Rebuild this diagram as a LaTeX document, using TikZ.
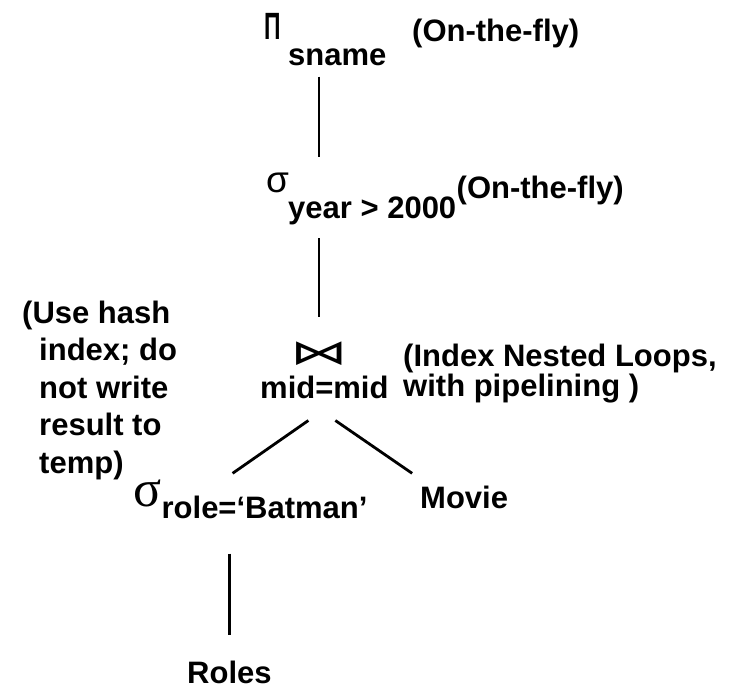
\documentclass[tikz,border=0pt]{standalone}
\usepackage{fontspec}
\setmainfont{Liberation Sans}
\newfontfamily\serifgreek{Liberation Serif}
\newfontfamily\symfont{DejaVu Sans}
\tikzset{
	lbl/.style ={inner sep=0pt, font=\fontsize{31}{37.5}\selectfont\bfseries},
	note/.style={lbl, align=left},
	edge/.style={line width=2.8pt},
}

\begin{document}
\begin{tikzpicture}[x=1pt, y=-1pt]
	\useasboundingbox (0,0) rectangle (742,686);
	% projection
	\node[lbl, anchor=base west] (pi) at (264,39) {\fontsize{38}{38}\selectfont\scalebox{0.6}[1]{Π}};
	\node[lbl, anchor=base west] (pisub) at (288,65) {sname};
	\node[lbl, anchor=base west] (otf1) at (412,41) {(On-the-fly)};
	% selection on year
	\node[lbl, anchor=base west] (sig1) at (266,192) {\mdseries\fontsize{37}{37}\selectfont σ};
	\node[lbl, anchor=base west] (cond1) at (288,218) {year > 2000};
	\node[lbl, anchor=base west] (otf2) at ([yshift=20pt]cond1.base east) {(On-the-fly)};
	% join
	\node[lbl] (join) at (319,354) {\mdseries\symfont\fontsize{46}{46}\selectfont\scalebox{1.25}[0.75]{⋈}};
	\node[lbl, anchor=base west] (cond2) at (260,398) {mid=mid};
	\node[note, anchor=north west, font=\fontsize{31}{30}\selectfont\bfseries] (inl) at (403,343.5) {(Index Nested Loops,\\with pipelining )};
	\node[note, anchor=north west] (hint) at (22,300.5) {(Use hash\\\hspace*{0.55em}index; do\\\hspace*{0.55em}not write\\\hspace*{0.55em}result to\\\hspace*{0.55em}temp)};
	% leaves
	\node[lbl, anchor=base west] (sig3) at (133,506) {\mdseries\serifgreek\fontsize{52}{52}\selectfont σ};
	\node[lbl, anchor=base west] (cond3) at ([yshift=-12pt]sig3.base east) {role=‘Batman’};
	\node[lbl, anchor=base west] (movie) at (420,508) {Movie};
	\node[lbl, anchor=base west] (roles) at (187,683) {Roles};

	\draw[edge, shorten <=11pt, shorten >=15pt] (pisub.south -| join.center) -- (sig1.north -| join.center);
	\draw[edge, shorten <=13.5pt, shorten >=25pt] (cond1.south -| join.center) -- (join.north);
	\draw[edge] ([xshift=-16pt, yshift=-22pt]cond2.south) -- ([xshift=-32pt, yshift=22pt]cond3.north);
	\draw[edge] ([xshift=11pt, yshift=-22pt]cond2.south) -- ([xshift=-52pt, yshift=12pt]movie.north);
	\draw[edge, shorten <=35pt, shorten >=25.4pt] (cond3.south -| roles.north) -- (roles.north);
\end{tikzpicture}
\end{document}
